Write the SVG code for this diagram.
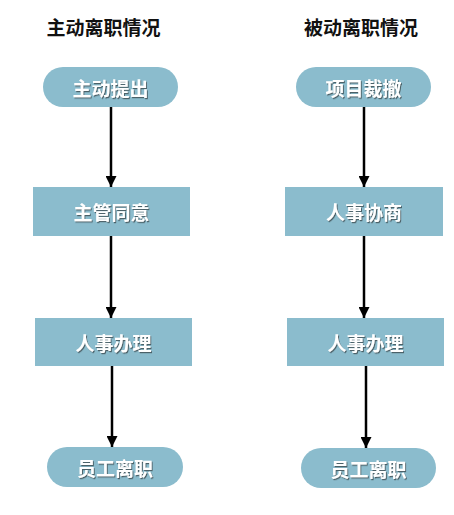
<svg xmlns="http://www.w3.org/2000/svg" width="454" height="515" viewBox="0 0 454 515">
<style>
.node{fill:#8bbccd;}
.label{font-family:"Noto Sans CJK SC","Noto Sans",sans-serif;font-weight:bold;font-size:19px;fill:#ffffff;text-anchor:middle;dominant-baseline:central;filter:url(#sh);}
.title{font-family:"Noto Sans CJK SC","Noto Sans",sans-serif;font-weight:bold;font-size:19px;fill:#111111;text-anchor:middle;dominant-baseline:central;}
.conn{stroke:#000;stroke-width:2.5;fill:none;marker-end:url(#arr);}
</style>
<defs>
<marker id="arr" viewBox="0 0 10 10" refX="10" refY="5" markerWidth="4.4" markerHeight="4.4" markerUnits="strokeWidth" orient="auto">
<path d="M0,0 L10,5 L0,10 Z" fill="#000"/>
</marker>
<filter id="sh" x="-20%" y="-30%" width="140%" height="160%">
<feDropShadow dx="1" dy="1.2" stdDeviation="0.6" flood-color="#3a4a50" flood-opacity="0.8"/>
</filter>
</defs>
<text class="title" x="103.5" y="26">主动离职情况</text>
<text class="title" x="361" y="26">被动离职情况</text>
<g id="connectors">
<line class="conn" x1="111" y1="107" x2="111" y2="187"/>
<line class="conn" x1="111" y1="236" x2="111" y2="318"/>
<line class="conn" x1="112" y1="366" x2="112" y2="447"/>
<line class="conn" x1="364" y1="107" x2="364" y2="187"/>
<line class="conn" x1="364" y1="236" x2="364" y2="318"/>
<line class="conn" x1="366" y1="366" x2="366" y2="448"/>
</g>
<g id="l1"><rect class="node" x="43" y="67" width="135" height="40" rx="20"/><text class="label" x="110.5" y="87">主动提出</text></g>
<g id="l2"><rect class="node" x="33" y="187" width="157" height="49"/><text class="label" x="111.5" y="211.5">主管同意</text></g>
<g id="l3"><rect class="node" x="35" y="318" width="157" height="48"/><text class="label" x="113.5" y="342">人事办理</text></g>
<g id="l4"><rect class="node" x="47" y="447" width="136" height="40" rx="20"/><text class="label" x="115" y="467">员工离职</text></g>
<g id="r1"><rect class="node" x="296" y="67" width="135" height="40" rx="20"/><text class="label" x="363.5" y="87">项目裁撤</text></g>
<g id="r2"><rect class="node" x="285" y="187" width="158" height="49"/><text class="label" x="364" y="211.5">人事协商</text></g>
<g id="r3"><rect class="node" x="287" y="318" width="157" height="48"/><text class="label" x="365.5" y="342">人事办理</text></g>
<g id="r4"><rect class="node" x="301" y="448" width="135" height="40" rx="20"/><text class="label" x="368.5" y="468">员工离职</text></g>
</svg>
